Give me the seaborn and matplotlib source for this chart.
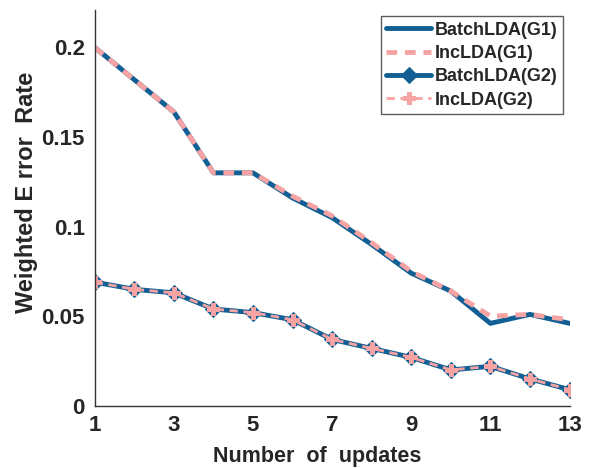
import matplotlib
matplotlib.use("Agg")
import matplotlib.pyplot as plt
import seaborn as sns
import pandas as pd

updates = list(range(1, 14))
batch_g1 = [0.200, 0.182, 0.164, 0.130, 0.130, 0.116, 0.105, 0.090, 0.074, 0.064, 0.046, 0.051, 0.046]
inc_g1 = [0.200, 0.182, 0.164, 0.130, 0.130, 0.117, 0.106, 0.091, 0.075, 0.064, 0.050, 0.051, 0.048]
batch_g2 = [0.069, 0.065, 0.063, 0.054, 0.052, 0.048, 0.037, 0.032, 0.027, 0.020, 0.022, 0.015, 0.009]
inc_g2 = [0.069, 0.065, 0.063, 0.054, 0.052, 0.048, 0.037, 0.032, 0.027, 0.020, 0.022, 0.015, 0.009]
series_names = ["BatchLDA(G1)", "IncLDA(G1)", "BatchLDA(G2)", "IncLDA(G2)"]
xticks = [1, 3, 5, 7, 9, 11, 13]
yticks = [0, 0.05, 0.1, 0.15, 0.2]
yticklabels = ["0", "0.05", "0.1", "0.15", "0.2"]

sns.set_style("white")
plt.rcParams["font.family"] = ["Liberation Sans", "DejaVu Sans"]
plt.rcParams["font.weight"] = "bold"

blue = "#115f94"
pink = "#f7a3a3"

fig, ax = plt.subplots(figsize=(5.92, 4.68), dpi=100)
fig.subplots_adjust(left=0.16, right=0.962, top=0.979, bottom=0.133)

df = pd.DataFrame({"x": updates, "b1": batch_g1, "i1": inc_g1, "b2": batch_g2, "i2": inc_g2})

sns.lineplot(data=df, x="x", y="b1", ax=ax, color=blue, lw=3.5, label=series_names[0])
sns.lineplot(data=df, x="x", y="i1", ax=ax, color=pink, lw=3.5, dashes=False, label=series_names[1])
ax.lines[-1].set_linestyle((0, (2.2, 1.6)))
sns.lineplot(data=df, x="x", y="b2", ax=ax, color=blue, lw=3.5, marker="D", markersize=8,
             markeredgecolor=blue, markerfacecolor=blue, label=series_names[2])
sns.lineplot(data=df, x="x", y="i2", ax=ax, color=pink, lw=2.0, marker="P", markersize=8,
             markeredgecolor=pink, markerfacecolor=pink, label=series_names[3])
ax.lines[-1].set_linestyle((0, (3, 2)))

ax.set_xlim(1, 13)
ax.set_ylim(0, 0.221)
ax.set_xticks(xticks)
ax.set_xticklabels([str(t) for t in xticks], fontsize=16, fontweight="bold")
ax.set_yticks(yticks)
ax.set_yticklabels(yticklabels, fontsize=16, fontweight="bold")
ax.tick_params(direction="in", length=4, width=1, color="#333333", pad=7)
ax.set_xlabel("Number  of  updates", fontsize=15.5, fontweight="bold")
ax.set_ylabel("Weighted E rror  Rate", fontsize=17, fontweight="bold")
ax.xaxis.set_label_coords(0.468, -0.102)
ax.yaxis.set_label_coords(-0.12, 0.54)
for s in ["top", "right"]:
    ax.spines[s].set_visible(False)
for s in ["left", "bottom"]:
    ax.spines[s].set_color("#333333")
    ax.spines[s].set_linewidth(1.0)

leg = ax.legend(loc="upper right", bbox_to_anchor=(1.0, 1.0), fontsize=13, frameon=True,
                fancybox=False, edgecolor="#333333", handlelength=2.5, handletextpad=0.2,
                borderpad=0.3, labelspacing=0.35, borderaxespad=0.35)
leg.get_frame().set_linewidth(1.0)
for t in leg.get_texts():
    t.set_fontweight("bold")

fig.savefig("out.png", dpi=100)
